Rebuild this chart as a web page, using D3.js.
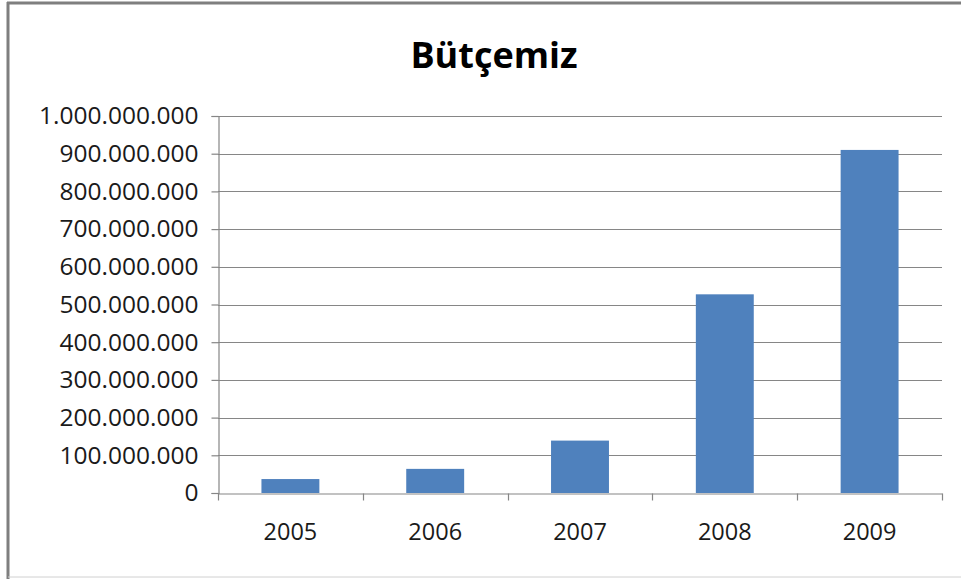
<!DOCTYPE html>
<html>
<head>
<meta charset="utf-8">
<script src="https://cdn.jsdelivr.net/npm/d3@7"></script>
<style>
  body { margin: 0; background: #fff; }
  svg { display: block; }
</style>
</head>
<body>
<svg id="chart"></svg>
<script>
  const years = ["2005", "2006", "2007", "2008", "2009"];
  const budget = [37000000, 64000000, 139000000, 527000000, 910000000];
  const yTicks = [0, 100000000, 200000000, 300000000, 400000000, 500000000,
    600000000, 700000000, 800000000, 900000000, 1000000000];

  const size = { width: 961, height: 579 };
  const margin = { top: 116, bottom: 86, left: 218, right: 19 };

  const svg = d3.select("#chart")
    .attr("width", size.width)
    .attr("height", size.height)
    .style("font-family", "'Open Sans', sans-serif");

  // chart frame
  svg.append("line")
    .attr("x1", 8).attr("x2", 8).attr("y1", 2).attr("y2", size.height)
    .attr("stroke", "#7f7f7f").attr("stroke-width", 3);
  svg.append("line")
    .attr("x1", 7).attr("x2", size.width).attr("y1", 3).attr("y2", 3)
    .attr("stroke", "#7f7f7f").attr("stroke-width", 3);
  svg.append("line")
    .attr("x1", 8).attr("x2", size.width).attr("y1", 577).attr("y2", 577)
    .attr("stroke", "#d0d0d0").attr("stroke-width", 1);

  const x = d3.scaleBand()
    .domain(years)
    .range([margin.left, size.width - margin.right])
    .paddingInner(0.6)
    .paddingOuter(0.3);

  const band = (size.width - margin.right - margin.left) / years.length;

  const y = d3.scaleLinear()
    .domain([0, 1000000000])
    .range([size.height - margin.bottom, margin.top]);

  const fmt = (v) => d3.format(",")(v).replace(/,/g, ".");

  // gridlines
  svg.append("g")
    .selectAll("line")
    .data(yTicks.slice(1))
    .join("line")
    .attr("x1", margin.left)
    .attr("x2", size.width - margin.right)
    .attr("y1", (d) => Math.round(y(d)) + 0.5)
    .attr("y2", (d) => Math.round(y(d)) + 0.5)
    .attr("stroke", "#868686")
    .attr("stroke-width", 1.2);

  // bars
  svg.append("g")
    .selectAll("rect")
    .data(years)
    .join("rect")
    .attr("x", (d) => x(d))
    .attr("width", x.bandwidth())
    .attr("y", (d, i) => y(budget[i]))
    .attr("height", (d, i) => y(0) - y(budget[i]))
    .attr("fill", "#4f81bd");

  // y axis
  const yAxis = svg.append("g")
    .attr("transform", `translate(${margin.left + 0.5},0)`)
    .call(d3.axisLeft(y).tickValues(yTicks).tickFormat(fmt).tickSize(7).tickPadding(13));
  yAxis.select(".domain").attr("stroke", "#868686").attr("stroke-width", 1.2);
  yAxis.selectAll(".tick line").attr("stroke", "#868686").attr("stroke-width", 1.2);
  yAxis.selectAll("text")
    .style("font-family", "'Open Sans', sans-serif")
    .style("font-size", "24.5px")
    .attr("fill", "#1a1a1a");

  // x axis
  const xAxis = svg.append("g")
    .attr("transform", `translate(0,${Math.round(y(0)) + 0.5})`)
    .call(d3.axisBottom(x).tickSize(0).tickPadding(30));
  xAxis.select(".domain").attr("stroke", "#868686").attr("stroke-width", 1.2);
  xAxis.selectAll("text")
    .style("font-family", "'Open Sans', sans-serif")
    .style("font-size", "23.5px")
    .attr("fill", "#1a1a1a");

  d3.range(years.length + 1).forEach((i) => {
    xAxis.append("line")
      .attr("x1", Math.round(margin.left + band * i) + 0.5)
      .attr("x2", Math.round(margin.left + band * i) + 0.5)
      .attr("y1", 0)
      .attr("y2", 7)
      .attr("stroke", "#868686")
      .attr("stroke-width", 1.2);
  });

  // title
  svg.append("text")
    .text("Bütçemiz")
    .attr("x", 494)
    .attr("y", 68)
    .attr("text-anchor", "middle")
    .style("font-family", "'Open Sans', sans-serif")
    .style("font-weight", "bold")
    .style("font-size", "36px")
    .attr("fill", "#000");
</script>
</body>
</html>
